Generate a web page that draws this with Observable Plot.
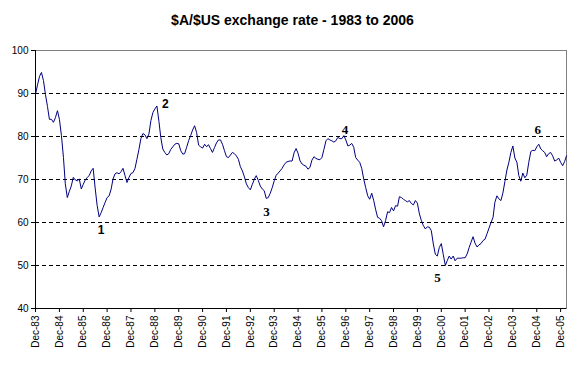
<!DOCTYPE html>
<html>
<head>
<meta charset="utf-8">
<script src="https://cdn.jsdelivr.net/npm/d3@7"></script>
<script src="https://cdn.jsdelivr.net/npm/@observablehq/plot@0.6"></script>
<style>
  body { margin: 0; background: #fff; font-family: Arial, "Liberation Sans", sans-serif; }
  #title { width: 585px; height: 34px; box-sizing: border-box; padding-top: 12px; text-align: center;
           font-weight: bold; font-size: 14px; line-height: 16px; color: #000; }
  #chart svg { display: block; }
</style>
</head>
<body>
<div id="title">$A/$US exchange rate - 1983 to 2006</div>
<div id="chart"></div>
<script>
// Monthly US cents per Australian dollar, starting December 1983
const startYear = 1983;
const startMonthIndex = 11; // December
const rates = [
  89.8, 92.0, 94.0, 94.9, 93.0, 89.8, 87.0, 84.0, 84.0, 83.3, 84.4, 86.0,
  84.0, 80.2, 75.1, 69.0, 65.8, 67.2, 68.5, 70.5, 69.9, 69.7, 70.1, 67.8,
  68.9, 69.9, 70.5, 70.9, 72.0, 72.6, 68.0, 64.0, 61.3, 62.3, 63.5, 64.7,
  65.8, 66.2, 67.8, 70.1, 71.3, 71.6, 71.3, 71.8, 72.6, 70.9, 69.3, 70.5,
  71.4, 71.6, 72.6, 74.7, 77.0, 79.5, 80.7, 80.4, 79.5, 80.6, 83.7, 85.6,
  86.4, 87.1, 83.5, 79.8, 77.1, 76.3, 75.7, 76.0, 77.0, 77.6, 78.2, 78.4,
  78.3, 76.7, 75.9, 76.0, 77.5, 79.0, 80.2, 81.5, 82.5, 80.9, 78.0, 77.6,
  77.3, 78.2, 77.6, 78.1, 77.2, 76.3, 77.4, 78.5, 79.2, 79.2, 78.2, 76.7,
  75.3, 75.1, 75.7, 76.3, 76.0, 75.5, 74.7, 73.0, 72.0, 70.6, 69.0, 68.1,
  67.6, 68.9, 70.1, 70.9, 69.8, 68.5, 67.8, 67.4, 65.6, 65.8, 66.8, 68.1,
  69.7, 71.0, 71.5, 72.0, 72.6, 73.4, 74.0, 74.2, 74.3, 74.3, 76.2, 77.2,
  76.1, 74.3, 73.6, 73.3, 73.1, 72.4, 72.8, 74.5, 75.3, 74.9, 74.7, 74.6,
  75.1, 77.0, 79.0, 79.5, 79.2, 79.0, 78.7, 79.0, 79.8, 79.5, 79.5, 80.2,
  79.2, 77.8, 78.0, 78.4, 77.5, 75.1, 74.5, 74.0, 72.6, 70.1, 68.1, 66.2,
  65.4, 66.8, 65.1, 63.1, 61.2, 61.0, 60.4, 59.0, 60.4, 62.5, 62.3, 63.5,
  62.7, 63.9, 63.8, 66.0, 65.8, 65.4, 65.1, 64.8, 65.1, 64.4, 64.1, 65.1,
  64.5, 62.0, 60.4, 59.3, 58.5, 59.0, 58.9, 58.1, 55.0, 52.6, 52.2, 54.2,
  55.1, 52.5, 50.0, 51.1, 52.2, 51.5, 52.2, 51.1, 51.7, 51.7, 51.7, 51.8,
  51.8, 52.7, 54.2, 55.4, 56.7, 55.2, 54.3, 54.8, 55.1, 55.8, 56.1, 57.4,
  58.7, 60.0, 61.2, 64.7, 66.2, 65.5, 65.1, 66.8, 69.5, 72.2, 74.0, 76.3,
  77.8, 75.0, 74.0, 70.9, 69.6, 71.5, 70.4, 71.0, 74.0, 76.5, 76.8, 76.7,
  77.6, 78.2, 77.1, 76.7, 76.3, 75.3, 76.0, 76.3, 75.5, 74.3, 74.5, 75.0,
  74.0, 73.2, 74.2, 75.5
];

const yTicks = [40, 50, 60, 70, 80, 90, 100];
const gridValues = [50, 60, 70, 80, 90];
const tickYears = d3.range(1983, 2006); // Dec-83 ... Dec-05

const annotationLabels = ["1", "2", "3", "4", "5", "6"];
const annotationDates = ["1986-09-01", "1989-05-10", "1993-08-06", "1996-11-18", "2000-10-03", "2004-12-15"];
const annotationValues = [58.3, 87.6, 62.5, 81.6, 47.1, 81.6];

const data = rates.map((v, i) => ({ date: new Date(Date.UTC(startYear, startMonthIndex + i, 1)), value: v }));
const annotations = annotationLabels.map((t, i) => ({ label: t, date: new Date(annotationDates[i] + "T00:00:00Z"), value: annotationValues[i] }));
const tickDates = tickYears.map(y => new Date(Date.UTC(y, 11, 1)));
const xStart = data[0].date;
const xEnd = data[data.length - 1].date;

const chart = Plot.plot({
  width: 585,
  height: 331,
  marginLeft: 35,
  marginRight: 19,
  marginTop: 16,
  marginBottom: 57,
  style: { background: "#fff", color: "#000", fontFamily: "Arial, 'Liberation Sans', sans-serif" },
  x: { type: "utc", domain: [xStart, xEnd] },
  y: { domain: [40, 100] },
  marks: [
    Plot.ruleY(gridValues, { stroke: "#000", strokeWidth: 1, strokeDasharray: "4,3" }),
    Plot.frame({ stroke: "#808080", strokeWidth: 1 }),
    Plot.ruleY([40], { stroke: "#000", strokeWidth: 1 }),
    Plot.ruleX([xStart], { stroke: "#000", strokeWidth: 1 }),
    Plot.axisY(yTicks, { tickSize: 4, tickPadding: 3, fontSize: 10, label: null, stroke: "#000" }),
    Plot.axisX(tickDates, {
      tickSize: 4, tickPadding: 3, tickRotate: -90, fontSize: 10, label: null, stroke: "#000",
      tickFormat: d => "Dec-" + String(d.getUTCFullYear()).slice(2)
    }),
    Plot.lineY(data, { x: "date", y: "value", stroke: "#000080", strokeWidth: 1 }),
    Plot.text(annotations.filter(d => +d.label <= 2), { x: "date", y: "value", text: "label", fontWeight: "bold", fontSize: 12, fill: "#000" }),
    Plot.text(annotations.filter(d => +d.label > 2), { x: "date", y: "value", text: "label", fontWeight: "bold", fontSize: 13, fill: "#000", fontFamily: "'Liberation Serif', 'Times New Roman', serif" })
  ]
});
document.getElementById("chart").appendChild(chart);
</script>
</body>
</html>
